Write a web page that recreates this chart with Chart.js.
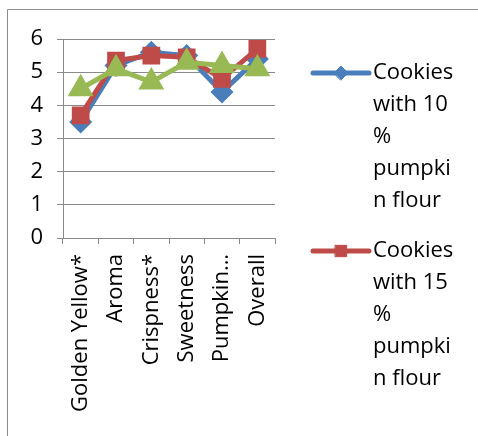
<!DOCTYPE html>
<html>
<head>
<meta charset="utf-8">
<script src="https://cdn.jsdelivr.net/npm/chart.js@4.4.1/dist/chart.umd.min.js"></script>
<style>
  html, body { margin: 0; padding: 0; background: #ffffff; }
  #wrap { width: 478px; height: 436px; position: relative; }
</style>
</head>
<body>
<div id="wrap"><canvas id="c" width="478" height="436"></canvas></div>
<script>
// Sensory attributes scored for the cookie samples
const categories = ["Golden Yellow*", "Aroma", "Crispness*", "Sweetness", "Pumpkin\u2026", "Overall"];
const cookies10 = [3.5, 5.2, 5.6, 5.5, 4.4, 5.4];
const cookies15 = [3.7, 5.35, 5.5, 5.45, 4.8, 5.7];
const cookies20 = [4.5, 5.1, 4.7, 5.3, 5.2, 5.1];
const yTicks = [0, 1, 2, 3, 4, 5, 6];

// Legend entries, wrapped the way they appear in the side panel
const legendLines = [
  ["Cookies", "with 10", "%", "pumpki", "n flour"],
  ["Cookies", "with 15", "%", "pumpki", "n flour"]
];

const FONT = "'Open Sans', 'Noto Sans', sans-serif";
const FONT_SIZE = 22;
const GRID = "#8a8a8a";

// Outer frame: thin grey rule along the top and left edges
const framePlugin = {
  id: "frame",
  beforeDraw(chart) {
    const ctx = chart.ctx;
    ctx.save();
    ctx.strokeStyle = "#8c8c8c";
    ctx.lineWidth = 1;
    ctx.beginPath();
    ctx.moveTo(7.5, 436);
    ctx.lineTo(7.5, 9.5);
    ctx.lineTo(478, 9.5);
    ctx.stroke();
    ctx.restore();
  }
};

// Side legend with multi-line entries, styled from the datasets
const sideLegend = {
  id: "sideLegend",
  afterDraw(chart) {
    const ctx = chart.ctx;
    const x0 = 313, x1 = 369, textX = 373;
    const starts = [73, 251];
    const lineH = 32;
    ctx.save();
    legendLines.forEach((lines, i) => {
      const ds = chart.data.datasets[i];
      const y = starts[i];
      ctx.strokeStyle = ds.borderColor;
      ctx.lineWidth = 5;
      ctx.lineCap = "round";
      ctx.beginPath();
      ctx.moveTo(x0, y);
      ctx.lineTo(x1, y);
      ctx.stroke();
      ctx.fillStyle = ds.pointBackgroundColor;
      ctx.strokeStyle = ds.pointBorderColor;
      ctx.lineWidth = 1;
      Chart.helpers.drawPoint(ctx, {
        pointStyle: ds.pointStyle,
        radius: ds.pointRadius - 1,
        borderWidth: 1
      }, (x0 + x1) / 2, y);
      ctx.fillStyle = "#000000";
      ctx.font = FONT_SIZE + "px " + FONT;
      ctx.textAlign = "left";
      ctx.textBaseline = "middle";
      lines.forEach((t, k) => ctx.fillText(t, textX, y + k * lineH));
    });
    ctx.restore();
  }
};

const ctx = document.getElementById("c").getContext("2d");
new Chart(ctx, {
  type: "line",
  data: {
    labels: categories,
    datasets: [
      {
        label: "Cookies with 10 % pumpkin flour",
        data: cookies10,
        borderColor: "#4a7ebb",
        backgroundColor: "#4a7ebb",
        pointBackgroundColor: "#4a7ebb",
        pointBorderColor: "#4a7ebb",
        pointStyle: "rectRot",
        pointRadius: 8,
        borderWidth: 5,
        order: 3
      },
      {
        label: "Cookies with 15 % pumpkin flour",
        data: cookies15,
        borderColor: "#be4b48",
        backgroundColor: "#be4b48",
        pointBackgroundColor: "#be4b48",
        pointBorderColor: "#be4b48",
        pointStyle: "rect",
        pointRadius: 9,
        borderWidth: 5,
        order: 2
      },
      {
        label: "Cookies with 20 % pumpkin flour",
        data: cookies20,
        borderColor: "#98b954",
        backgroundColor: "#98b954",
        pointBackgroundColor: "#98b954",
        pointBorderColor: "#98b954",
        pointStyle: "triangle",
        pointRadius: 10,
        borderWidth: 5,
        order: 1
      }
    ]
  },
  options: {
    responsive: false,
    animation: false,
    layout: { padding: { left: 8, right: 203, top: 39, bottom: 0 } },
    plugins: {
      legend: { display: false },
      tooltip: { enabled: false }
    },
    elements: { line: { tension: 0 } },
    scales: {
      x: {
        offset: true,
        grid: {
          offset: true,
          drawOnChartArea: false,
          drawTicks: true,
          tickLength: 6,
          color: GRID
        },
        border: { color: GRID, width: 1 },
        ticks: {
          color: "#000000",
          font: { family: FONT, size: FONT_SIZE },
          minRotation: 90,
          maxRotation: 90,
          autoSkip: false,
          padding: 10
        },
        afterFit(scale) { scale.height = 198; }
      },
      y: {
        min: 0,
        max: 6,
        afterBuildTicks(scale) { scale.ticks = yTicks.map(v => ({ value: v })); },
        grid: { color: GRID, tickLength: 6, lineWidth: 1 },
        border: { color: GRID, width: 1 },
        ticks: {
          color: "#000000",
          font: { family: FONT, size: FONT_SIZE },
          padding: 14
        },
        afterFit(scale) { scale.width = 55; }
      }
    }
  },
  plugins: [framePlugin, sideLegend]
});
</script>
</body>
</html>
